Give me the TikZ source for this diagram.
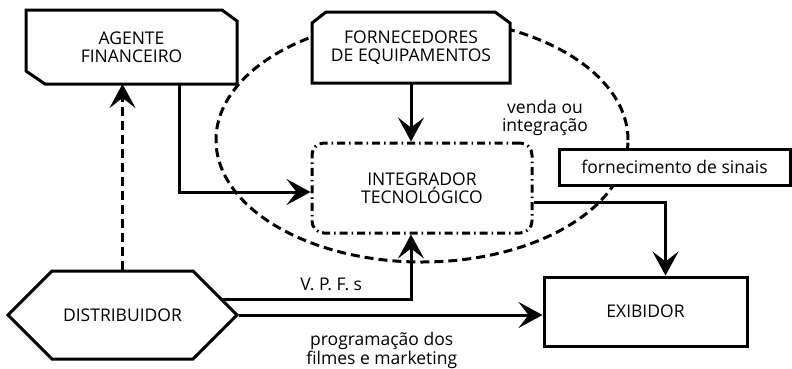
\documentclass[tikz,border=0pt]{standalone}
\usepackage{fontspec}
\setmainfont{Open Sans}
\usetikzlibrary{arrows.meta,shapes.symbols,backgrounds}

\newcommand{\boxfont}{\fontsize{17.5}{18}\selectfont}
\tikzstyle{block}=[draw,line width=3pt,fill=white,align=center,inner sep=0pt]
\tikzstyle{plain}=[align=center,inner sep=0pt,outer sep=0pt]
\tikzstyle{hexa}=[block,signal,signal to=west and east,signal pointer angle=90]
\tikzstyle{flow}=[draw,line width=3pt,-{Stealth[length=24pt,width=26pt,inset=10pt]}]
\tikzstyle{lbl}=[align=center,inner sep=0pt]
\tikzstyle{dashes}=[dash pattern=on 9pt off 5pt]
\tikzstyle{outline}=[draw,line width=3pt,fill=white]

\begin{document}
\begin{tikzpicture}[x=1pt, y=-1pt, font=\boxfont]
    \useasboundingbox (0,0) rectangle (792,368);
    % First the boxes
    \node[plain,minimum width=211pt,minimum height=74pt] (agente) at (131.5,47) {AGENTE\\FINANCEIRO};
    \node[plain,minimum width=198pt,minimum height=71pt] (forn) at (411,47.5) {FORNECEDORES\\DE EQUIPAMENTOS};
    \node[block,rounded corners=12pt,dash pattern=on 8pt off 4pt on 1.5pt off 4pt,minimum width=220pt,minimum height=90pt] (integ) at (422,188) {INTEGRADOR\\TECNOLÓGICO};
    \node[block,minimum width=231pt,minimum height=36pt] (sinais) at (674.5,167) {fornecimento de sinais};
    \node[hexa,minimum width=229pt,minimum height=88pt] (distr) at (122.5,315) {DISTRIBUIDOR};
    \node[block,minimum width=203pt,minimum height=69pt] (exib) at (645.5,311.5) {EXIBIDOR};
    \node[lbl] (venda) at (545,118) {venda ou\\integração};
    % The ellipse and the cut corners go behind the text
    \begin{scope}[on background layer]
        \draw[line width=3pt,dashes] (422,140) ellipse [x radius=206pt, y radius=122pt];
        \path[outline] (agente.north west) -- ([xshift=-15pt]agente.north east) -- ([yshift=-11pt]agente.north east)
            -- (agente.south east) -- ([xshift=19pt]agente.south west) -- ([yshift=13pt]agente.south west) -- cycle;
        \path[outline] (forn.south west) -- ([yshift=-11pt]forn.north west) -- ([xshift=14pt]forn.north west)
            -- ([xshift=-15pt]forn.north east) -- ([yshift=-11pt]forn.north east) -- (forn.south east) -- cycle;
    \end{scope}
    % Connect the boxes with arrows and labels
    \path[flow,dashes] (distr.north) -- (distr.north |- agente.south);
    \path[flow] ([xshift=47.5pt]agente.south) |- ([yshift=-4pt]integ.west);
    \path[flow] (forn.south) -- (forn.south |- integ.north);
    \path[flow] ([yshift=-14pt]integ.east) -| ([xshift=20pt]exib.north);
    \path[flow] ([shift={(98.5,-16)}]distr.center) -| node[lbl,pos=0.29,above=7pt] {V. P. F. s} (forn.south |- integ.south);
    \path[flow] (distr.east) -- node[lbl,pos=0.47,below=16pt,font=\fontsize{17.5}{15}\selectfont] {programação dos\\filmes e marketing} (distr.east -| exib.west);
\end{tikzpicture}
\end{document}
